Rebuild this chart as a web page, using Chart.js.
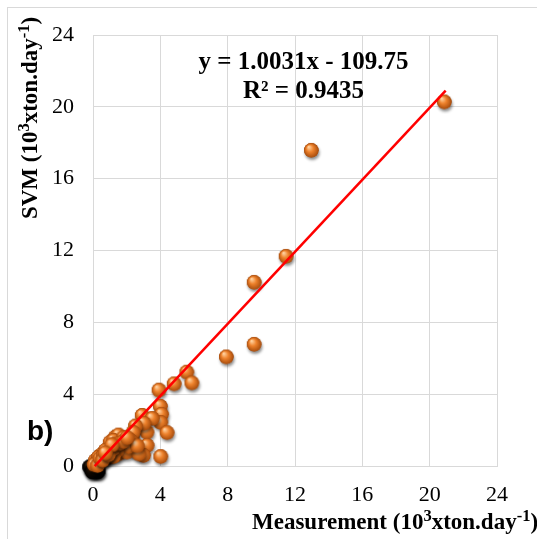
<!DOCTYPE html>
<html>
<head>
<meta charset="utf-8">
<script src="https://cdn.jsdelivr.net/npm/chart.js@4.4.1/dist/chart.umd.min.js"></script>
<style>
  html, body { margin: 0; padding: 0; background: #ffffff; overflow: hidden; }
  canvas { display: block; }
</style>
</head>
<body>
<canvas id="c" width="537" height="539"></canvas>
<script>
// ---- Data (10^3 ton/day) ----
const measured = [
  20.85, 12.95, 11.45, 9.55, 9.55, 7.9, 5.55, 4.8, 5.85, 3.9, 3.98, 4.05, 4.0, 4.38, 4.0,
  2.9, 3.5, 2.7, 3.18, 2.3, 3.19, 2.5, 2.98, 3.0, 2.5, 2.36, 1.7, 1.3, 1.0, 1.5, 0.71, 0.42, 0.12,
  2.2, 1.9, 1.5, 1.2, 1.6, 2.0, 2.7, 1.8, 2.1, 1.1, 1.4, 0.9, 0.6, 0.3, 0.2, 0.5, 1.2, 0.8, 2.6, 0.05, 0.25,
  0.4, 0.6, 0.8, 1.0, 1.2, 0.55, 0.9, 1.3, 1.6, 1.8, 2.0, 1.1, 0.7
];
const predictedSVM = [
  20.3, 17.6, 11.7, 10.25, 6.8, 6.1, 5.25, 4.6, 4.65, 4.25, 3.35, 2.9, 2.45, 1.88, 0.55,
  2.84, 2.67, 2.28, 1.91, 1.63, 1.17, 0.89, 0.61, 2.4, 2.25, 1.9, 1.17, 1.63, 1.35, 0.7, 0.89, 0.61, 0.33,
  1.45, 1.35, 1.75, 1.45, 0.98, 0.8, 0.7, 1.6, 1.1, 0.8, 0.9, 0.5, 0.4, 0.5, 0.2, 0.3, 0.55, 0.6, 1.15, 0.1, 0.05,
  0.45, 0.6, 0.7, 0.85, 1.0, 0.35, 0.65, 1.25, 1.3, 1.4, 1.6, 1.2, 0.75
];
// dense overlapping points at the origin (appear dark)
const originX = [-0.2, 0.05, 0.3, 0.15, -0.05];
const originY = [-0.05, -0.2, -0.3, -0.1, -0.3];

// Trendline from equation y = 1.0031x - 109.75 (ton) -> 10^3 ton
const trendSlope = 1.0031;
const trendIntercept = -109.75 / 1000;
const trendRangeX = [0.1, 20.95];

const tickValues = [0, 4, 8, 12, 16, 20, 24];
const equationText = 'y = 1.0031x - 109.75';
const r2Text = 'R\u00B2 = 0.9435';
const panelLabel = 'b)';

Chart.defaults.font.family = '"Liberation Serif", "Times New Roman", serif';
Chart.defaults.font.size = 22;

// ---- marker images (3D spheres) ----
function makeSphere(r, c0, c1, c2, shadowAlpha) {
  const s = document.createElement('canvas');
  const size = 2 * r + 12;
  s.width = size; s.height = size;
  const g = s.getContext('2d');
  const cx = size / 2, cy = size / 2;
  g.save();
  g.shadowColor = 'rgba(0,0,0,' + shadowAlpha + ')';
  g.shadowBlur = 3;
  g.shadowOffsetX = 1;
  g.shadowOffsetY = 2.5;
  g.beginPath(); g.arc(cx, cy, r, 0, Math.PI * 2);
  g.fillStyle = c2; g.fill();
  g.restore();
  const grad = g.createRadialGradient(cx - r * 0.35, cy - r * 0.45, r * 0.08, cx, cy, r);
  grad.addColorStop(0, c0);
  grad.addColorStop(0.45, c1);
  grad.addColorStop(1, c2);
  g.beginPath(); g.arc(cx, cy, r, 0, Math.PI * 2);
  g.fillStyle = grad; g.fill();
  return s;
}
const orangeSphere = makeSphere(7.3, '#ffcf9c', '#ee822c', '#a84c0c', 0.45);
const darkSphere = makeSphere(7.5, '#3a2410', '#120a04', '#000000', 0.8);

const pts = measured.map((x, i) => ({ x: x, y: predictedSVM[i] }));
const originPts = originX.map((x, i) => ({ x: x, y: originY[i] }));
const trendPts = trendRangeX.map(x => ({ x: x, y: trendSlope * x + trendIntercept }));

// ---- rich text helper (superscripts) ----
const SUP = 0.72;
function richWidth(ctx, parts, size) {
  let w = 0;
  parts.forEach(p => {
    ctx.font = 'bold ' + (p.sup ? size * SUP : size) + 'px "Liberation Serif", "DejaVu Serif", serif';
    w += ctx.measureText(p.t).width;
  });
  return w;
}
function drawRich(ctx, parts, x, y, size) {
  let cx = x;
  parts.forEach(p => {
    const fs = p.sup ? size * SUP : size;
    ctx.font = 'bold ' + fs + 'px "Liberation Serif", "DejaVu Serif", serif';
    ctx.fillText(p.t, cx, p.sup ? y - size * 0.36 : y);
    cx += ctx.measureText(p.t).width;
  });
}
const xTitleParts = [{ t: 'Measurement (10' }, { t: '3', sup: true }, { t: 'xton.day' }, { t: '-1', sup: true }, { t: ')' }];
const yTitleParts = [{ t: 'SVM (10' }, { t: '3', sup: true }, { t: 'xton.day' }, { t: '-1', sup: true }, { t: ')' }];

const decorPlugin = {
  id: 'decor',
  beforeDraw(chart) {
    const ctx = chart.ctx;
    ctx.save();
    ctx.fillStyle = '#ffffff';
    ctx.fillRect(0, 0, chart.width, chart.height);
    ctx.strokeStyle = '#d9d9d9';
    ctx.lineWidth = 1;
    ctx.strokeRect(7.5, 7.5, 700, 700);
    ctx.restore();
  },
  afterDraw(chart) {
    const ctx = chart.ctx;
    const a = chart.chartArea;
    const xs = chart.scales.x, ys = chart.scales.y;
    ctx.save();
    ctx.fillStyle = '#000000';
    ctx.textBaseline = 'alphabetic';
    // equation
    ctx.textAlign = 'center';
    ctx.font = 'bold 25px "Liberation Serif", serif';
    const ex = xs.getPixelForValue(12.5);
    ctx.fillText(equationText, ex, ys.getPixelForValue(22.1));
    ctx.fillText(r2Text, ex, ys.getPixelForValue(20.5));
    // x title
    ctx.textAlign = 'left';
    drawRich(ctx, xTitleParts, a.left + 159, chart.height - 10, 23);
    // y title (rotated)
    const w = richWidth(ctx, yTitleParts, 23);
    ctx.translate(37, a.top + 83);
    ctx.rotate(-Math.PI / 2);
    drawRich(ctx, yTitleParts, -w / 2, 0, 23);
    ctx.restore();
    // panel label
    ctx.save();
    ctx.fillStyle = '#000000';
    ctx.textAlign = 'left';
    ctx.font = 'bold 28px "Liberation Sans", Arial, sans-serif';
    ctx.fillText(panelLabel, 27, 440);
    ctx.restore();
  }
};

const tickFont = { family: '"Liberation Serif", "Times New Roman", serif', size: 22, weight: 'normal' };

new Chart(document.getElementById('c'), {
  type: 'scatter',
  data: {
    datasets: [
      {
        type: 'line',
        label: 'Linear (SVM)',
        data: trendPts,
        borderColor: '#ff0000',
        borderWidth: 2.5,
        pointRadius: 0,
        fill: false,
        order: 0,
        clip: false
      },
      {
        label: 'SVM',
        data: pts,
        pointStyle: orangeSphere,
        pointRadius: 7,
        order: 1,
        clip: false
      },
      {
        label: 'origin',
        data: originPts,
        pointStyle: darkSphere,
        pointRadius: 7,
        order: 2,
        clip: false
      }
    ]
  },
  options: {
    responsive: false,
    devicePixelRatio: 1,
    animation: false,
    layout: { padding: { left: 0, top: 35, right: 40, bottom: 0 } },
    plugins: { legend: { display: false }, tooltip: { enabled: false } },
    scales: {
      x: {
        type: 'linear',
        min: 0, max: 24,
        afterBuildTicks(scale) { scale.ticks = tickValues.map(v => ({ value: v })); },
        afterFit(scale) { scale.height = 73; },
        ticks: { font: tickFont, color: '#000000', padding: 16 },
        grid: { color: '#d9d9d9', lineWidth: 1, drawTicks: false },
        border: { display: true, color: '#d9d9d9' }
      },
      y: {
        type: 'linear',
        min: 0, max: 24,
        afterBuildTicks(scale) { scale.ticks = tickValues.map(v => ({ value: v })); },
        afterFit(scale) { scale.width = 93; },
        ticks: { font: tickFont, color: '#000000', padding: 19 },
        grid: { color: '#d9d9d9', lineWidth: 1, drawTicks: false },
        border: { display: true, color: '#d9d9d9' }
      }
    }
  },
  plugins: [decorPlugin]
});
</script>
</body>
</html>
